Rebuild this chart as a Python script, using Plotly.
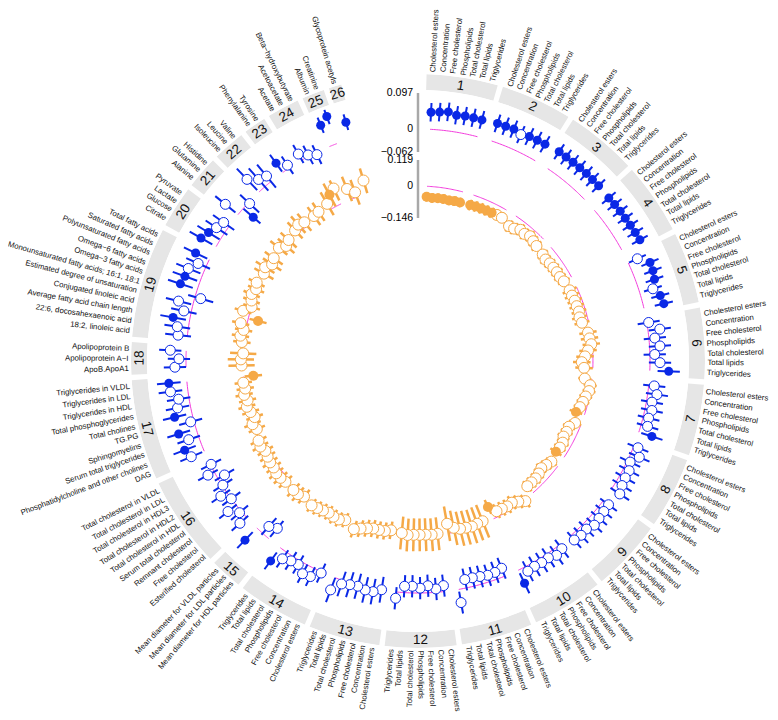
import numpy as np
import plotly.graph_objects as go

# ---------------- data ----------------
LIPO = ["Cholesterol esters", "Concentration", "Free cholesterol", "Phospholipids",
        "Total cholesterol", "Total lipids", "Triglycerides"]
group_labels = [LIPO] * 14 + [
    ["Mean diameter for HDL particles", "Mean diameter for LDL particles", "Mean diameter for VLDL particles"],
    ["Esterified cholesterol", "Free cholesterol", "Remnant cholesterol", "Serum total cholesterol",
     "Total cholesterol in HDL", "Total cholesterol in HDL2", "Total cholesterol in HDL3",
     "Total cholesterol in LDL", "Total cholesterol in VLDL"],
    ["DAG", "Phosphatidylcholine and other cholines", "Serum total triglycerides", "Sphingomyelins",
     "TG.PG", "Total cholines", "Total phosphoglycerides", "Triglycerides in HDL",
     "Triglycerides in LDL", "Triglycerides in VLDL"],
    ["ApoB.ApoA1", "Apolipoprotein A\u2212I", "Apolipoprotein B"],
    ["18:2, linoleic acid", "22:6, docosahexaenoic acid", "Average fatty acid chain length",
     "Conjugated linoleic acid", "Estimated degree of unsaturation", "Monounsaturated fatty acids; 16:1, 18:1",
     "Omega\u22123 fatty acids", "Omega\u22126 fatty acids", "Polyunsaturated fatty acids",
     "Saturated fatty acids", "Total fatty acids"],
    ["Citrate", "Glucose", "Lactate", "Pyruvate"],
    ["Alanine", "Glutamine", "Histidine"],
    ["Isoleucine", "Leucine", "Valine"],
    ["Phenylalanine", "Tyrosine"],
    ["Acetate", "Acetoacetate", "Beta\u2212hydroxybutyrate"],
    ["Albumin", "Creatinine"],
    ["Glycoprotein acetyls"],
]

# outer ring (blue): estimate, CI half width, significant flag (per group)
blue_est = [
    [0.046, 0.048, 0.051, 0.045, 0.047, 0.047, 0.047],
    [0.050, 0.050, 0.051, 0.045, 0.050, 0.051, 0.052],
    [0.055, 0.054, 0.054, 0.054, 0.054, 0.053, 0.053],
    [0.051, 0.052, 0.053, 0.053, 0.054, 0.055, 0.056],
    [0.027, 0.054, 0.053, 0.049, 0.037, 0.051, 0.055],
    [0.005, 0.032, 0.016, 0.028, 0.013, 0.027, 0.051],
    [0.015, 0.025, 0.015, 0.019, 0.015, 0.018, 0.037],
    [0.012, 0.025, 0.008, 0.016, 0.016, 0.019, 0.026],
    [0.018, 0.019, 0.021, 0.024, 0.016, 0.018, 0.015],
    [0.012, 0.018, 0.011, 0.012, 0.011, 0.014, 0.039],
    [-0.023, -0.019, -0.018, -0.021, -0.023, -0.023, 0.036],
    [-0.016, -0.009, -0.019, -0.013, -0.018, -0.017, 0.017],
    [-0.001, 0.008, 0.008, 0.003, 0.005, 0.010, 0.035],
    [0.003, 0.024, 0.027, 0.011, 0.013, 0.021, 0.044],
    [-0.036, -0.025, 0.046],
    [0.024, 0.006, 0.028, 0.000, 0.019, -0.002, -0.020, 0.019, -0.002],
    [0.038, 0.048, 0.028, 0.049, 0.009, 0.048, 0.035, 0.028, 0.047, 0.049],
    [0.030, 0.019, 0.043],
    [0.025, 0.030, 0.045, 0.020, 0.040, -0.016, 0.048, 0.043, 0.042, 0.023, 0.041],
    [0.047, 0.037, 0.026, 0.018],
    [0.044, -0.036, -0.004],
    [0.047, 0.026, 0.019],
    [0.031, 0.009],
    [0.019, 0.004, -0.006],
    [0.062, 0.078],
    [0.047],
]
blue_ci = [
    [0.025] * 7, [0.025] * 7, [0.024] * 7, [0.024] * 7, [0.025] * 7,
    [0.030] * 7, [0.030] * 7, [0.030] * 7, [0.028] * 7, [0.030] * 7,
    [0.030] * 7, [0.030] * 7, [0.035] * 7, [0.028] * 7,
    [0.030] * 3, [0.030] * 9, [0.032] * 10, [0.030] * 3, [0.035] * 11, [0.035] * 4,
    [0.035] * 3, [0.040] * 3, [0.028] * 2, [0.028] * 3, [0.022] * 2, [0.022],
]
blue_sig = [
    [1] * 7, [1, 1, 1, 0, 1, 1, 1], [1] * 7, [1] * 7, [0, 1, 1, 1, 0, 1, 1],
    [0, 0, 0, 0, 0, 0, 1], [0, 0, 0, 0, 0, 0, 1], [0] * 7, [0] * 7, [0, 0, 0, 0, 0, 0, 1],
    [0] * 7, [0] * 7, [0] * 7, [0, 0, 0, 0, 0, 0, 1],
    [0, 0, 1], [0] * 9, [0, 1, 0, 1, 0, 1, 0, 0, 0, 1], [0, 0, 0],
    [0, 0, 1, 0, 0, 0, 1, 1, 0, 0, 1], [1, 1, 0, 0], [0, 1, 0], [0, 0, 0], [1, 0], [0, 0, 0],
    [1, 1], [1],
]

# inner ring (orange)
orange_est = [
    [-0.048, -0.052, -0.050, -0.050, -0.052, -0.050, -0.050],
    [-0.048, -0.046, -0.045, -0.044, -0.043, -0.041, -0.041],
    [-0.056, -0.052, -0.039, -0.042, -0.033, -0.040, -0.045],
    [-0.050, -0.055, -0.050, -0.048, -0.046, -0.046, -0.040],
    [-0.035, -0.035, -0.032, -0.032, -0.030, -0.035, -0.030],
    [-0.012, -0.009, -0.004, -0.021, -0.036, -0.051, -0.040],
    [-0.033, -0.005, -0.006, -0.016, -0.023, -0.030, -0.041],
    [-0.028, -0.047, -0.047, -0.050, -0.040, -0.040, -0.045],
    [-0.036, -0.045, -0.053, -0.045, -0.040, -0.040, -0.040],
    [0.007, -0.010, -0.023, -0.020, -0.023, -0.025, -0.060],
    [-0.010, -0.008, -0.004, -0.007, -0.009, -0.020, -0.044],
    [-0.005, -0.003, -0.005, -0.005, -0.005, -0.003, -0.010],
    [-0.016, -0.008, -0.007, -0.007, 0.000, 0.010, 0.023],
    [0.000, 0.010, 0.010, 0.005, 0.010, 0.015, 0.020],
    [0.010, 0.020, 0.020],
    [0.020, 0.025, 0.027, 0.020, 0.020, 0.015, 0.010, 0.020, 0.015],
    [0.000, 0.010, -0.010, 0.000, 0.010, 0.000, 0.010, 0.000, 0.005, -0.044],
    [0.007, 0.010, 0.000],
    [0.010, 0.020, 0.010, 0.029, -0.046, 0.032, 0.000, 0.010, 0.020, 0.010, 0.020],
    [0.010, 0.020, 0.000, 0.010],
    [0.020, 0.000, 0.010],
    [0.020, 0.030, 0.020],
    [0.016, 0.020],
    [0.030, 0.061, 0.078],
    [0.051, 0.023],
    [0.062],
]
orange_ci = [
    [0.022] * 7, [0.025] * 7, [0.030] * 7, [0.030] * 7, [0.035] * 7,
    [0.040] * 7, [0.030] * 7, [0.030] * 7, [0.030] * 7, [0.035] * 7,
    [0.080] * 7, [0.075] * 7, [0.040] * 7, [0.035] * 7,
    [0.040] * 3, [0.040] * 9, [0.040] * 10, [0.060] * 3, [0.040] * 11, [0.050] * 4,
    [0.050] * 3, [0.050] * 3, [0.050] * 2, [0.060] * 3, [0.060] * 2, [0.060],
]
orange_sig = [
    [1] * 7, [1, 1, 1, 1, 1, 0, 0], [0] * 7, [0] * 7, [0] * 7, [0] * 7,
    [0, 0, 0, 0, 0, 0, 1], [0, 0, 0, 0, 0, 0, 1], [0] * 7, [0, 0, 0, 0, 0, 0, 1],
    [0] * 7, [0] * 7, [0] * 7, [0] * 7,
    [0] * 3, [0] * 9, [0] * 9 + [1], [0] * 3, [0, 0, 0, 0, 1, 0, 0, 0, 0, 0, 0], [0] * 4,
    [0] * 3, [0] * 3, [0] * 2, [0, 1, 0], [0, 0], [0],
]

blue_axis_ticks = [-0.062, 0, 0.097]
orange_axis_ticks = [-0.146, 0, 0.119]

# ---------------- geometry ----------------
W, H = 778, 720
CX, CY = 410, 353          # page body offset of 8 px is compensated here
THETA0, STEP, GAP = 3.0, 1.975, 1.85
R_OUT, R_OUT_HOLE = 268, 209
R_IN, R_IN_HOLE = 201, 143
R_BAND_OUT, R_BAND_IN = 287, 271
R_LAB = 289.5

BLUE = "#0a28e6"
ORANGE = "#f5a947"
MAGENTA = "#f23cdc"
FONT = "Liberation Sans, Arial, sans-serif"

thetas = []
pos = 0.0
for g in group_labels:
    thetas.append([THETA0 + (pos + i) * STEP for i in range(len(g))])
    pos += len(g) - 1 + GAP


def flat(lst):
    return [v for g in lst for v in g]


def dom(R):
    return dict(x=[(CX - R) / W, (CX + R) / W], y=[(H - CY - R) / H, (H - CY + R) / H])


fig = go.Figure()

# gray group bands
band_theta = [(t[0] + t[-1]) / 2 for t in thetas]
band_width = [(t[-1] - t[0]) + 1.3 * STEP for t in thetas]
fig.add_trace(go.Barpolar(theta=band_theta, width=band_width, r=[1] * len(thetas), base=0,
                          marker=dict(color="#e6e6e6", line=dict(width=0)),
                          subplot="polar3", hoverinfo="skip", showlegend=False))


def ring(est, ci, sig, color, subplot, size_f, size_o, lw):
    for t in thetas:
        tt = np.linspace(t[0], t[-1], 30)
        fig.add_trace(go.Scatterpolar(theta=tt, r=[0] * len(tt), mode="lines",
                                      line=dict(color=MAGENTA, width=1), subplot=subplot,
                                      hoverinfo="skip", showlegend=False))
    th, rr = [], []
    for t, e, c in zip(flat(thetas), flat(est), flat(ci)):
        th += [t, t, None]
        rr += [e - c, e + c, None]
    fig.add_trace(go.Scatterpolar(theta=th, r=rr, mode="lines", line=dict(color=color, width=lw),
                                  subplot=subplot, hoverinfo="skip", showlegend=False))
    T, E, S = flat(thetas), flat(est), flat(sig)
    fig.add_trace(go.Scatterpolar(theta=[t for t, s in zip(T, S) if not s], r=[e for e, s in zip(E, S) if not s],
                                  mode="markers", subplot=subplot, showlegend=False,
                                  marker=dict(size=size_o, color="white", line=dict(color=color, width=1))))
    fig.add_trace(go.Scatterpolar(theta=[t for t, s in zip(T, S) if s], r=[e for e, s in zip(E, S) if s],
                                  mode="markers", subplot=subplot, showlegend=False,
                                  marker=dict(size=size_f, color=color, line=dict(width=0))))


ring(blue_est, blue_ci, blue_sig, BLUE, "polar", 9, 10, 2)
ring(orange_est, orange_ci, orange_sig, ORANGE, "polar2", 10, 11, 2.5)

ang = dict(direction="clockwise", rotation=90, showline=False, showgrid=False,
           showticklabels=False, ticks="")


def radial(rng, ticks):
    return dict(range=rng, autorange=False, angle=90, side="counterclockwise",
                tickvals=ticks, ticktext=[("\u2212" if v < 0 else "") + f"{abs(v):g}" for v in ticks],
                showgrid=False, showline=True, linecolor="#a8a8a8", linewidth=2.5, ticks="",
                tickangle=90, tickfont=dict(size=10.5, color="black", family=FONT))


fig.update_layout(
    width=W, height=H, margin=dict(l=0, r=0, t=0, b=0),
    paper_bgcolor="white", plot_bgcolor="white", showlegend=False,
    polar3=dict(domain=dom(R_BAND_OUT), hole=R_BAND_IN / R_BAND_OUT, bgcolor="rgba(0,0,0,0)",
                angularaxis=dict(ang), radialaxis=dict(range=[0, 1], visible=False), barmode="overlay"),
    polar=dict(domain=dom(R_OUT), hole=R_OUT_HOLE / R_OUT, bgcolor="rgba(0,0,0,0)",
               angularaxis=dict(ang), radialaxis=radial([-0.062, 0.097], blue_axis_ticks)),
    polar2=dict(domain=dom(R_IN), hole=R_IN_HOLE / R_IN, bgcolor="rgba(0,0,0,0)",
                angularaxis=dict(ang), radialaxis=radial([-0.146, 0.119], orange_axis_ticks)),
)

# labels
ann = []
for gi, (t, labs) in enumerate(zip(thetas, group_labels)):
    for th, lab in zip(t, labs):
        a = np.deg2rad(th)
        x = (CX + R_LAB * np.sin(a)) / W
        y = (H - CY + R_LAB * np.cos(a)) / H
        hid = f'<span style="color:rgba(0,0,0,0)">{lab}</span>'
        if th < 180:
            txt, rot = hid + lab, th - 90
        else:
            txt, rot = lab + hid, th - 270
        ann.append(dict(x=x, y=y, xref="paper", yref="paper", text=txt, textangle=rot,
                        showarrow=False, xanchor="center", yanchor="middle",
                        font=dict(size=7.8, color="#111111", family=FONT)))
    c = (t[0] + t[-1]) / 2
    a = np.deg2rad(c)
    rb = (R_BAND_OUT + R_BAND_IN) / 2
    if c <= 90:
        rot = c
    elif c <= 270:
        rot = c - 180
    else:
        rot = c - 360
    ann.append(dict(x=(CX + rb * np.sin(a)) / W, y=(H - CY + rb * np.cos(a)) / H, xref="paper", yref="paper",
                    text=str(gi + 1), textangle=rot, showarrow=False, xanchor="center", yanchor="middle",
                    font=dict(size=13.5, color="#111111", family=FONT)))
fig.update_layout(annotations=ann)

fig.write_html("out.html")
